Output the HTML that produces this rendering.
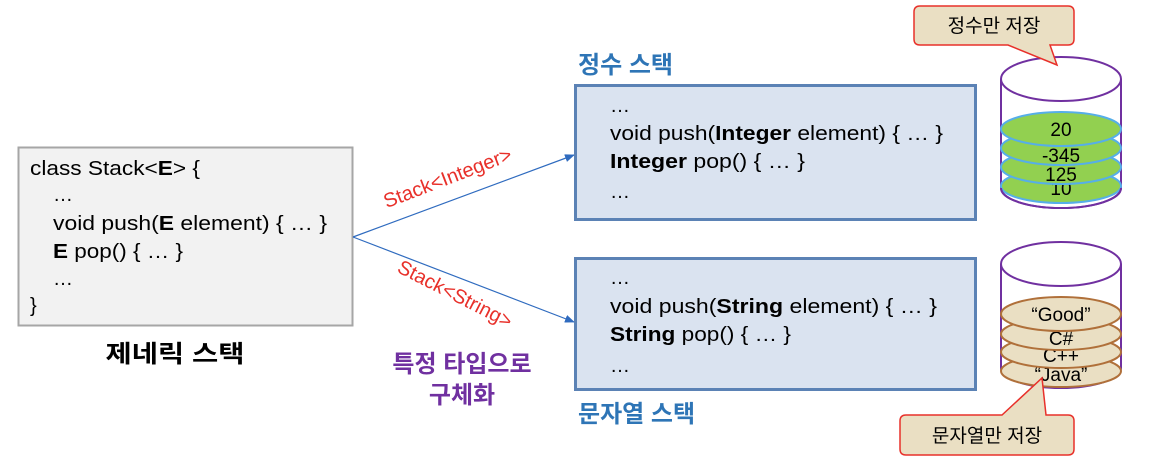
<!DOCTYPE html>
<html><head><meta charset="utf-8"><style>
body{margin:0;background:#fff;}
svg{display:block;font-family:"Liberation Sans","Noto Sans CJK KR",sans-serif;}
</style></head><body>
<svg width="1164" height="460" viewBox="0 0 1164 460" xmlns="http://www.w3.org/2000/svg">
<defs><marker id="a" markerWidth="10" markerHeight="8" refX="9" refY="4" orient="auto" markerUnits="userSpaceOnUse"><path d="M0,0 L10,4 L0,8 z" fill="#2f6bbf"/></marker></defs>
<rect x="18.5" y="147.5" width="334" height="178" fill="#f2f2f2" stroke="#a6a6a6" stroke-width="2"/>
<g font-size="20" fill="#000">
<text x="30" y="175" textLength="170" lengthAdjust="spacingAndGlyphs">class Stack&lt;<tspan font-weight="bold">E</tspan>&gt; {</text>
<text x="53" y="201">…</text>
<text x="53" y="230" textLength="274" lengthAdjust="spacingAndGlyphs">void push(<tspan font-weight="bold">E</tspan> element) { … }</text>
<text x="53" y="258" textLength="130" lengthAdjust="spacingAndGlyphs"><tspan font-weight="bold">E</tspan> pop() { … }</text>
<text x="53" y="285">…</text>
<text x="30" y="312">}</text>
</g>
<text x="175" y="362" font-size="24" font-weight="bold" text-anchor="middle" textLength="139" lengthAdjust="spacingAndGlyphs">제네릭 스택</text>
<line x1="353" y1="237" x2="574" y2="155" stroke="#2f6bbf" stroke-width="1.2" marker-end="url(#a)"/>
<line x1="353" y1="237" x2="574" y2="322" stroke="#2f6bbf" stroke-width="1.2" marker-end="url(#a)"/>
<text transform="translate(450,184) rotate(-21)" font-size="20" fill="#e8302a" text-anchor="middle">Stack&lt;Integer&gt;</text>
<text transform="translate(452,300) rotate(27)" font-size="20" fill="#e8302a" text-anchor="middle">Stack&lt;String&gt;</text>
<g font-size="24" font-weight="bold" fill="#7030a0" text-anchor="middle">
<text x="462" y="372">특정 타입으로</text>
<text x="462" y="403">구체화</text>
</g>
<text x="578" y="73" font-size="24" font-weight="bold" fill="#2e75b6">정수 스택</text>
<rect x="575.5" y="85.5" width="400" height="134" fill="#dae3f0" stroke="#5b82b5" stroke-width="3"/>
<g font-size="20" fill="#000">
<text x="610" y="112">…</text>
<text x="610" y="140" textLength="333" lengthAdjust="spacingAndGlyphs">void push(<tspan font-weight="bold">Integer</tspan> element) { … }</text>
<text x="610" y="168" textLength="195" lengthAdjust="spacingAndGlyphs"><tspan font-weight="bold">Integer</tspan> pop() { … }</text>
<text x="610" y="198">…</text>
</g>
<rect x="575.5" y="258.5" width="400" height="131" fill="#dae3f0" stroke="#5b82b5" stroke-width="3"/>
<g font-size="20" fill="#000">
<text x="610" y="284">…</text>
<text x="610" y="313" textLength="327" lengthAdjust="spacingAndGlyphs">void push(<tspan font-weight="bold">String</tspan> element) { … }</text>
<text x="610" y="341" textLength="181" lengthAdjust="spacingAndGlyphs"><tspan font-weight="bold">String</tspan> pop() { … }</text>
<text x="610" y="372">…</text>
</g>
<text x="578" y="422" font-size="24" font-weight="bold" fill="#2e75b6">문자열 스택</text>
<path d="M1001,79 L1001,188 A60,20 0 0 0 1121,188 L1121,79" fill="#fff" stroke="#7030a0" stroke-width="2"/>
<ellipse cx="1061" cy="186" rx="60" ry="17" fill="#92d050" stroke="#56aee8" stroke-width="2"/>
<text x="1061" y="195" font-size="19" text-anchor="middle">10</text>
<ellipse cx="1061" cy="167" rx="60" ry="17" fill="#92d050" stroke="#56aee8" stroke-width="2"/>
<text x="1061" y="181" font-size="19" text-anchor="middle">125</text>
<ellipse cx="1061" cy="148" rx="60" ry="17" fill="#92d050" stroke="#56aee8" stroke-width="2"/>
<text x="1061" y="162" font-size="19" text-anchor="middle">-345</text>
<ellipse cx="1061" cy="129" rx="60" ry="17" fill="#92d050" stroke="#56aee8" stroke-width="2"/>
<text x="1061" y="136" font-size="19" text-anchor="middle">20</text>
<path d="M1001,188 A60,20 0 0 0 1121,188" fill="none" stroke="#7030a0" stroke-width="2"/>
<ellipse cx="1061" cy="79" rx="60" ry="22" fill="#fff" stroke="#7030a0" stroke-width="2"/>
<path d="M1001,264 L1001,368 A60,20 0 0 0 1121,368 L1121,264" fill="#fff" stroke="#7030a0" stroke-width="2"/>
<ellipse cx="1061" cy="371" rx="60" ry="16" fill="#eadfc3" stroke="#b0703a" stroke-width="2"/>
<text x="1061" y="381" font-size="19" text-anchor="middle">“Java”</text>
<ellipse cx="1061" cy="352" rx="60" ry="16" fill="#eadfc3" stroke="#b0703a" stroke-width="2"/>
<text x="1061" y="362" font-size="19" text-anchor="middle">C++</text>
<ellipse cx="1061" cy="334" rx="60" ry="16" fill="#eadfc3" stroke="#b0703a" stroke-width="2"/>
<text x="1061" y="345" font-size="19" text-anchor="middle">C#</text>
<ellipse cx="1061" cy="314" rx="60" ry="17" fill="#eadfc3" stroke="#b0703a" stroke-width="2"/>
<text x="1061" y="321" font-size="19" text-anchor="middle">“Good”</text>
<ellipse cx="1061" cy="264" rx="60" ry="22" fill="#fff" stroke="#7030a0" stroke-width="2"/>
<path d="M920,6 L1068,6 Q1074,6 1074,12 L1074,39 Q1074,45 1068,45 L1050,45 L1057,65 L1008,45 L920,45 Q914,45 914,39 L914,12 Q914,6 920,6 z" fill="#eadfc3" stroke="#e8302a" stroke-width="1.5"/>
<text x="994" y="32" font-size="19" text-anchor="middle">정수만 저장</text>
<path d="M906,415 L1002,415 L1042,378 L1046,415 L1068,415 Q1074,415 1074,421 L1074,449 Q1074,455 1068,455 L906,455 Q900,455 900,449 L900,421 Q900,415 906,415 z" fill="#eadfc3" stroke="#e8302a" stroke-width="1.5"/>
<text x="987" y="442" font-size="19" text-anchor="middle">문자열만 저장</text>
</svg>
</body></html>
